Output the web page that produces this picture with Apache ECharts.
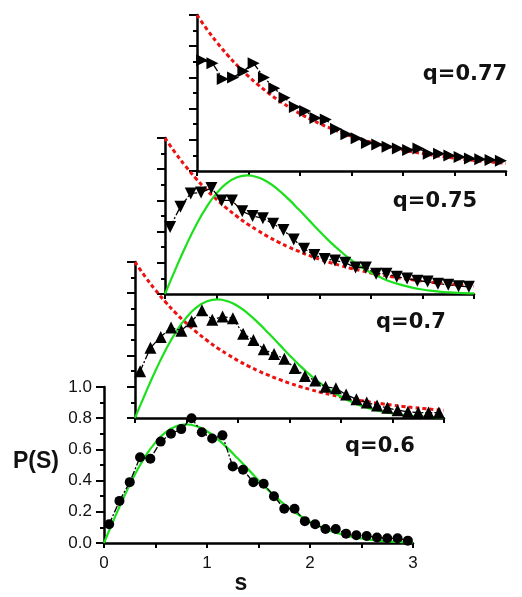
<!DOCTYPE html>
<html><head><meta charset="utf-8">
<script src="https://cdn.jsdelivr.net/npm/echarts@6/dist/echarts.min.js"></script>
<style>html,body{margin:0;padding:0;background:#fff}#c{width:522px;height:597px}</style>
</head><body><div id="c"></div>
<script>
// ---- data ----
const sPts = [0.05,0.15,0.25,0.35,0.45,0.55,0.65,0.75,0.85,0.95,1.05,1.15,1.25,1.35,1.45,1.55,1.65,1.75,1.85,1.95,2.05,2.15,2.25,2.35,2.45,2.55,2.65,2.75,2.85,2.95];
const q60 = [0.12,0.27,0.39,0.55,0.54,0.65,0.70,0.73,0.80,0.71,0.67,0.69,0.49,0.47,0.39,0.38,0.30,0.22,0.22,0.14,0.12,0.09,0.09,0.06,0.05,0.045,0.035,0.03,0.03,0.015];
const q70 = [0.30,0.45,0.52,0.58,0.56,0.62,0.69,0.63,0.65,0.64,0.54,0.50,0.44,0.41,0.38,0.32,0.27,0.24,0.20,0.19,0.15,0.12,0.10,0.08,0.065,0.05,0.04,0.035,0.035,0.035];
const q75 = [0.43,0.56,0.645,0.65,0.68,0.60,0.60,0.53,0.50,0.485,0.45,0.41,0.35,0.29,0.25,0.225,0.215,0.20,0.17,0.17,0.13,0.13,0.11,0.10,0.085,0.08,0.065,0.06,0.05,0.047];
const q77 = [0.71,0.69,0.59,0.60,0.64,0.69,0.60,0.53,0.47,0.41,0.385,0.34,0.33,0.27,0.235,0.21,0.18,0.17,0.155,0.145,0.135,0.145,0.11,0.11,0.10,0.09,0.08,0.075,0.07,0.065];
const curveS = [0,0.1,0.2,0.3,0.4,0.5,0.6,0.7,0.8,0.9,1.0,1.1,1.2,1.3,1.4,1.5,1.6,1.7,1.8,1.9,2.0,2.1,2.2,2.3,2.4,2.5,2.6,2.7,2.8,2.9,3.0];
const greenCurve = [0,0.156,0.304,0.439,0.554,0.645,0.710,0.748,0.760,0.748,0.716,0.668,0.608,0.541,0.472,0.402,0.336,0.276,0.222,0.176,0.136,0.104,0.077,0.057,0.041,0.029,0.020,0.013,0.009,0.006,0.004];
const redCurve = [1,0.905,0.819,0.741,0.670,0.607,0.549,0.497,0.449,0.407,0.368,0.333,0.301,0.273,0.247,0.223,0.202,0.183,0.165,0.150,0.135,0.122,0.111,0.100,0.091,0.082,0.074,0.067,0.061,0.055,0.050];
const panelLabels = ['q=0.6','q=0.7','q=0.75','q=0.77'];
const xTickLabels = ['0','1','2','3'];
const yAxisTitle = 'P(S)';
const xAxisTitle = 's';

// ---- layout ----
const panels = [
  {left:104, top:387, label:{x:380, y:447}},
  {left:135, top:262, label:{x:411, y:323}},
  {left:165, top:138, label:{x:435, y:202}},
  {left:197, top:15,  label:{x:465, y:75}}
];
const W = 309, H = 156;
const GREEN = '#1be01b', RED = '#ee1111';

const zip = (xs, ys) => xs.map((x,i)=>[x, ys[i]]);

const grids = panels.map(p => ({left:p.left, top:p.top, width:W, height:H, containLabel:false}));
const xAxes = panels.map((p,i) => ({
  type:'value', gridIndex:i, min:0, max:3, interval:0.5,
  axisLine:{show:true, onZero:false, lineStyle:{color:'#000', width:2.5}},
  axisTick:{show:true, inside:false, length:5, lineStyle:{color:'#000', width:2}},
  splitLine:{show:false},
  axisLabel: i===0 ? {show:true, fontFamily:'Liberation Sans', fontSize:17, color:'#111', margin:12,
    formatter: v => Number.isInteger(v) ? xTickLabels[v] : ''} : {show:false}
}));
const yAxes = panels.map((p,i) => ({
  type:'value', gridIndex:i, min:0, max:1, interval:0.2,
  axisLine:{show:true, onZero:false, lineStyle:{color:'#000', width:2.5}},
  axisTick:{show:true, inside:false, length:8, lineStyle:{color:'#000', width:2}},
  minorTick:{show:true, splitNumber:2, length:4, lineStyle:{color:'#000', width:2}},
  splitLine:{show:false}, minorSplitLine:{show:false},
  axisLabel: i===0 ? {show:true, fontFamily:'Liberation Sans', fontSize:17, color:'#111', margin:12,
    formatter: v => v.toFixed(1)} : {show:false}
}));

const series = [];
function curve(i, ys, color, type, width){
  series.push({type:'line', xAxisIndex:i, yAxisIndex:i, data:zip(curveS, ys), smooth:true,
    showSymbol:false, symbol:'none', lineStyle:{color, width, type}, z:2, silent:true});
}
function markers(i, ys, symbol, rot, size){
  series.push({type:'line', xAxisIndex:i, yAxisIndex:i, data:zip(sPts, ys),
    symbol, symbolSize:size, symbolRotate:rot, showAllSymbol:true,
    itemStyle:{color:'#000'}, lineStyle:{color:'#000', width:1.3, type:[7,2,2,2]}, z:3, silent:true});
}
// panel 0: q=0.6
curve(0, greenCurve, GREEN, 'solid', 2.2);
markers(0, q60, 'circle', 0, 10);
// panel 1: q=0.7
curve(1, redCurve, RED, [4,3], 3);
curve(1, greenCurve, GREEN, 'solid', 2.2);
markers(1, q70, 'triangle', 0, 12);
// panel 2: q=0.75
curve(2, redCurve, RED, [4,3], 3);
curve(2, greenCurve, GREEN, 'solid', 2.2);
markers(2, q75, 'triangle', 180, 12);
// panel 3: q=0.77
curve(3, redCurve, RED, [4,3], 3);
markers(3, q77, 'triangle', -90, 12);

const graphic = [
  {type:'text', x:36, y:462, style:{text:yAxisTitle, font:'bold 23px "Liberation Sans"', fill:'#111', align:'center', verticalAlign:'middle'}},
  {type:'text', x:241, y:584, style:{text:xAxisTitle, font:'bold 23px "Liberation Sans"', fill:'#111', align:'center', verticalAlign:'middle'}}
].concat(panels.map((p,i)=>({type:'text', x:p.label.x, y:p.label.y,
  style:{text:panelLabels[i], font:'bold 21px "DejaVu Sans"', fill:'#111', align:'center', verticalAlign:'middle'}})));

const chart = echarts.init(document.getElementById('c'), null, {renderer:'canvas'});
chart.setOption({animation:false, backgroundColor:'#fff', grid:grids, xAxis:xAxes, yAxis:yAxes, series, graphic});
</script></body></html>
